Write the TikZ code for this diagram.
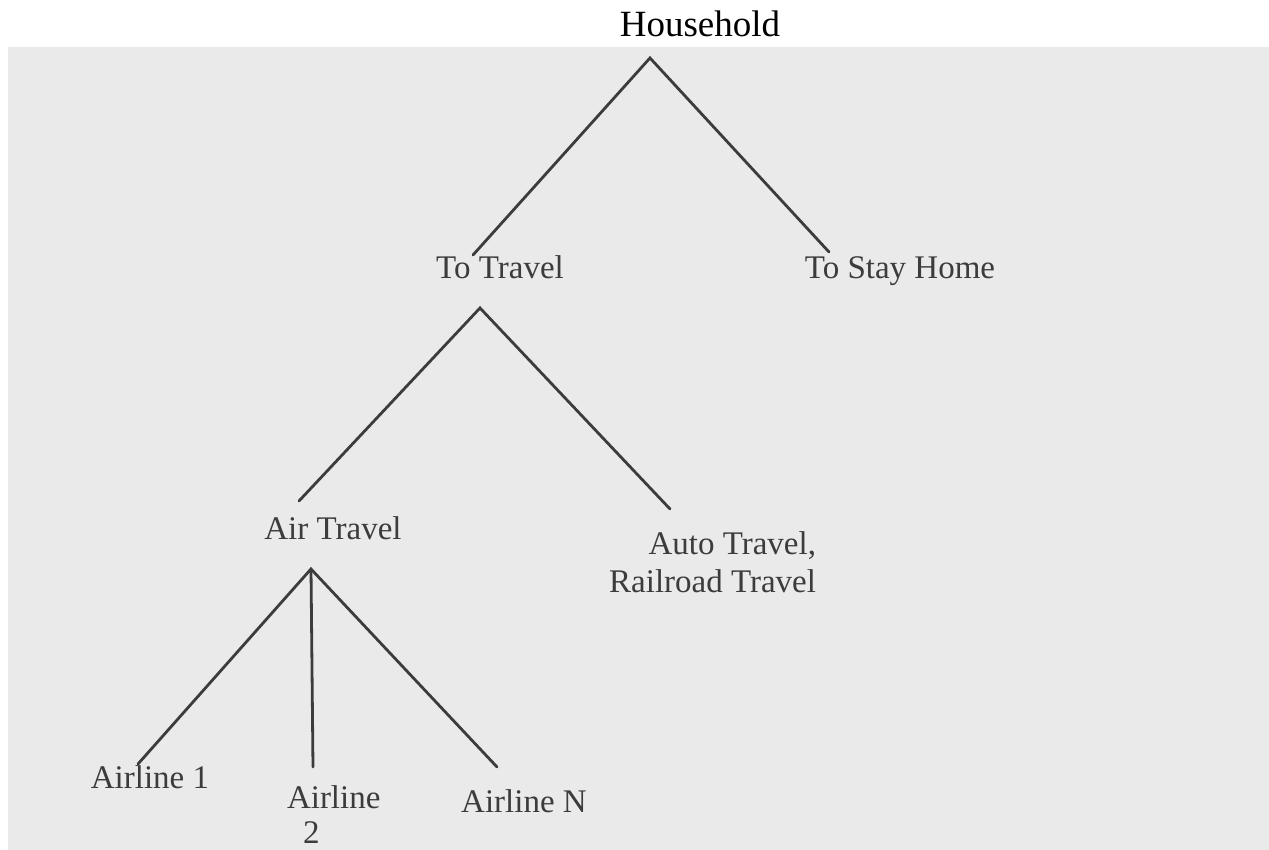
\documentclass[tikz,border=0pt]{standalone}
\usepackage{fontspec}
\setmainfont{Liberation Serif}
\usepackage{tikz}
\usetikzlibrary{positioning}
\usepackage{xcolor}
\definecolor{scanGray}{RGB}{234, 234, 234}
\definecolor{inkGray}{RGB}{60, 60, 60}

\begin{document}
\begin{tikzpicture}[
    x=1pt, y=-1pt,
    every node/.style={inner sep=0pt, outer sep=0pt},
    top/.style={anchor=base, font=\fontsize{37}{40}\selectfont, text=black},
    choice/.style={anchor=base, font=\fontsize{33}{38}\selectfont, text=inkGray},
    branch/.style={draw=inkGray, line width=2.8pt, line cap=round, line join=miter},
]
\useasboundingbox (0,0) rectangle (1269,850);
\fill[scanGray] (8,47) rectangle (1269,850);
\node[top] (HH) at (700, 37) {Household};
\node[choice] (TT) at (500, 279) {To Travel};
\node[choice] (SH) at (900, 279) {To Stay Home};
\node[choice] (AT) at (333, 539) {Air Travel};
\node[choice, align=right, anchor=base east] (AR) at (816, 592) {Auto Travel,\\Railroad Travel};
\node[choice] (A1) at (150, 788) {Airline 1};
\node[choice, font=\fontsize{33}{35}\selectfont, align=left, anchor=base west] (A2) at (287, 843) {Airline\\\hspace{16pt}2};
\node[choice] (AN) at (524, 812) {Airline N};
\coordinate (HHa) at (650, 58);
\coordinate (TTa) at (480, 308);
\coordinate (ATa) at (311, 569);
\coordinate (TTe) at (473, 255);
\coordinate (SHe) at (829, 252);
\coordinate (ATe) at (299, 501);
\coordinate (ARe) at (670, 509);
\coordinate (A1e) at (138, 764);
\coordinate (A2e) at (313, 767);
\coordinate (ANe) at (497, 767);
\draw[branch] (TTe) -- (HHa) -- (SHe);
\draw[branch] (ATe) -- (TTa) -- (ARe);
\draw[branch] (A1e) -- (ATa) -- (ANe); \draw[branch] (ATa) -- (A2e);
\end{tikzpicture}
\end{document}
